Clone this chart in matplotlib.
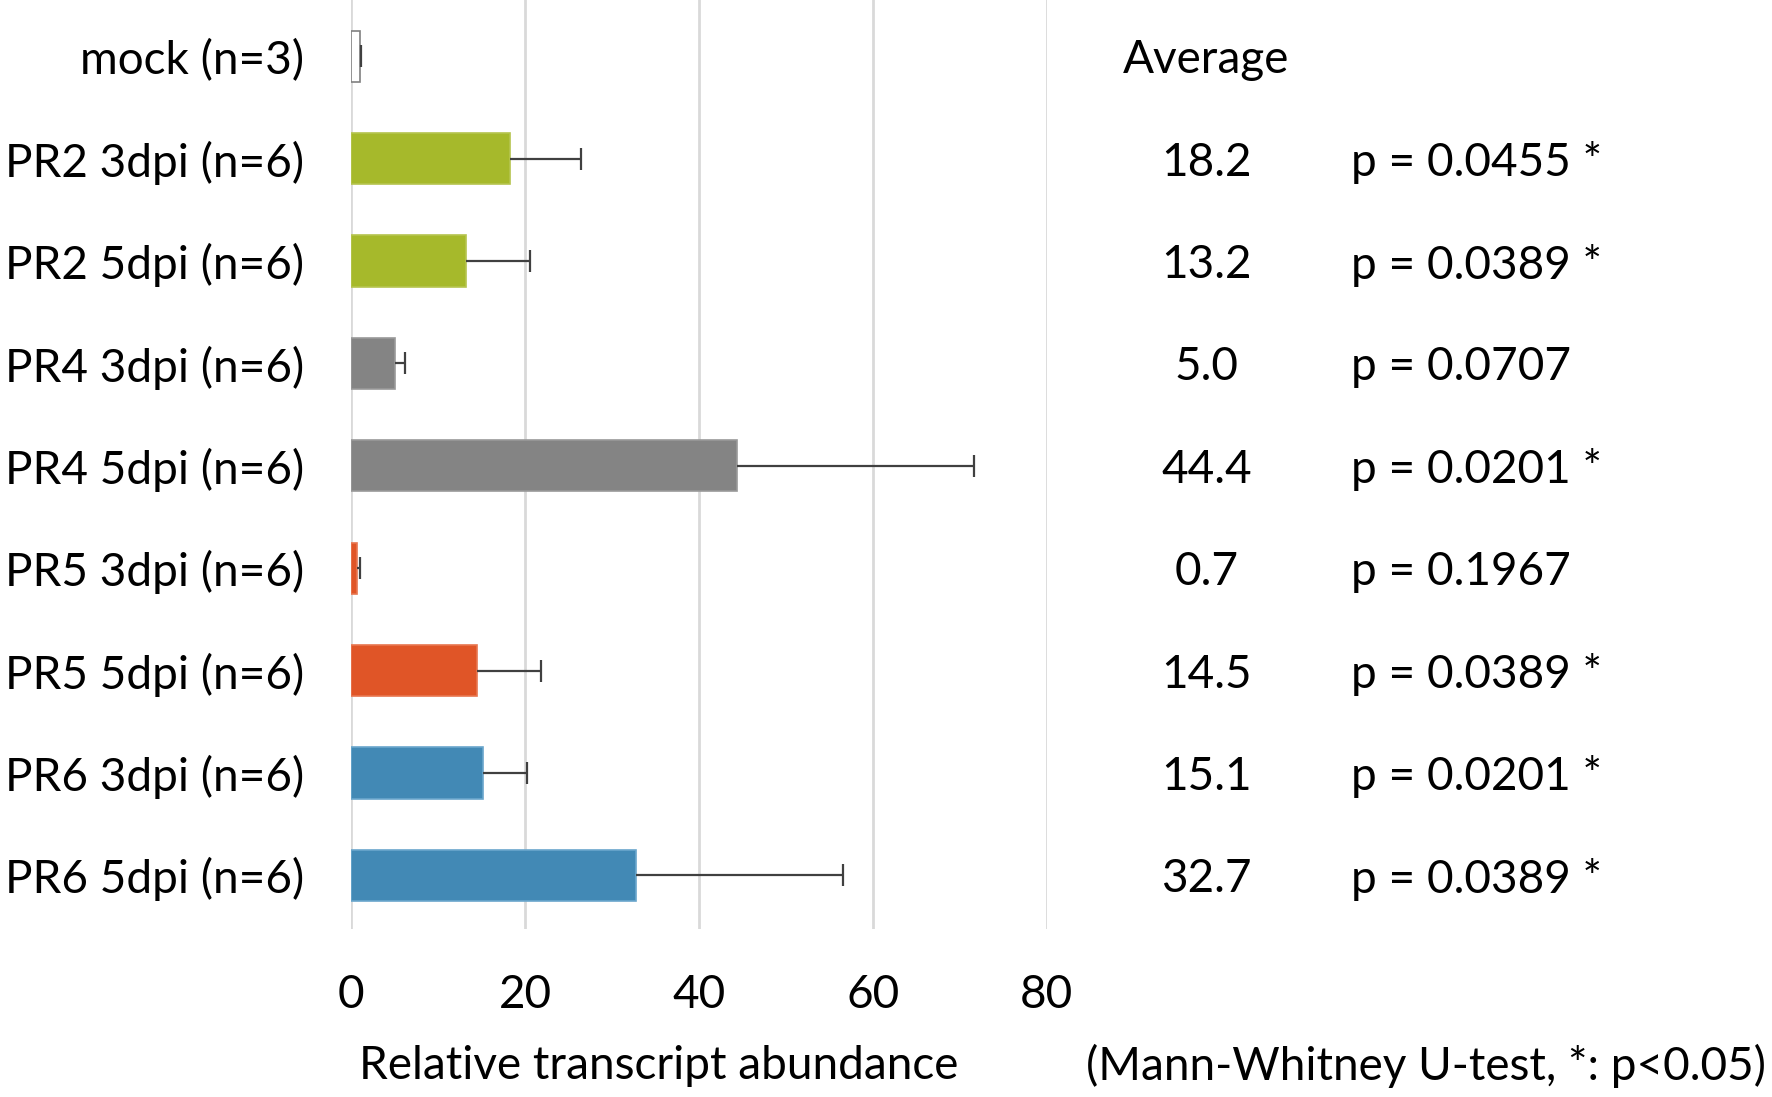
import numpy as np
import matplotlib
matplotlib.use("Agg")
import matplotlib.pyplot as plt

plt.rcParams['font.family'] = ['Lato', 'DejaVu Sans']

labels = ["mock (n=3)", "PR2 3dpi (n=6)", "PR2 5dpi (n=6)", "PR4 3dpi (n=6)",
          "PR4 5dpi (n=6)", "PR5 3dpi (n=6)", "PR5 5dpi (n=6)", "PR6 3dpi (n=6)",
          "PR6 5dpi (n=6)"]
means = [1.0, 18.2, 13.2, 5.0, 44.4, 0.7, 14.5, 15.1, 32.7]
errs = [0.1, 8.2, 7.3, 1.2, 27.2, 0.3, 7.3, 5.1, 23.9]
avg_text = ["", "18.2", "13.2", "5.0", "44.4", "0.7", "14.5", "15.1", "32.7"]
p_text = ["", "p = 0.0455 *", "p = 0.0389 *", "p = 0.0707", "p = 0.0201 *",
          "p = 0.1967", "p = 0.0389 *", "p = 0.0201 *", "p = 0.0389 *"]
colors = ["white", "#a6b92b", "#a6b92b", "#848484", "#848484",
          "#e05527", "#e05527", "#4289b5", "#4289b5"]
edges = ["#808080", "#b5c44e", "#b5c44e", "#999999", "#999999",
         "#e8764f", "#e8764f", "#6aa6cc", "#6aa6cc"]

FS = 33

fig = plt.figure(figsize=(17.72, 10.97), dpi=100)
ax = fig.add_axes([0.1983, 0.1535, 0.3923, 0.8465])

y = np.arange(len(labels))
ax.barh(y, means, height=0.5, color=colors, edgecolor=edges, linewidth=1.2, zorder=3)
eb = ax.errorbar(means, y, xerr=[np.zeros(len(errs)), errs], fmt='none',
                 ecolor='#404040', elinewidth=1.6, capsize=8, capthick=1.6, zorder=4)
# only the upper cap, like the original
eb[1][0].set_visible(False)

ax.set_xlim(0, 80)
ax.set_ylim(len(labels) - 0.48, -0.55)
ax.set_xticks([0, 20, 40, 60, 80])
ax.set_yticks(y)
ax.set_yticklabels(labels)
ax.tick_params(axis='both', length=0, labelsize=FS)
ax.tick_params(axis='y', pad=34)
ax.tick_params(axis='x', pad=33)
ax.grid(axis='x', color='#d9d9d9', linewidth=2, zorder=0)
ax.set_axisbelow(True)
for s in ax.spines.values():
    s.set_visible(False)

# right-hand table
ax.text(98.4, 0, "Average", ha='center', va='center_baseline', fontsize=FS, clip_on=False)
for i in range(1, len(labels)):
    ax.text(98.4, i, avg_text[i], ha='center', va='center_baseline', fontsize=FS, clip_on=False)
    ax.text(115, i, p_text[i], ha='left', va='center_baseline', fontsize=FS, clip_on=False)

fig.text(0.372, 0.028, "Relative transcript abundance", ha='center', va='center', fontsize=FS)
fig.text(0.805, 0.028, "(Mann-Whitney U-test, *: p<0.05)", ha='center', va='center', fontsize=FS)

fig.savefig("out.png", dpi=100)
